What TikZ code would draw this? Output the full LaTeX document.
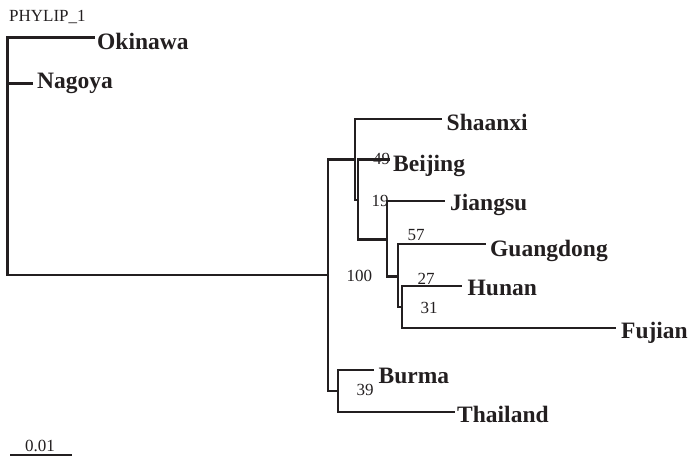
\documentclass[tikz,border=0pt]{standalone}
\usepackage{fontspec}
\setmainfont{Liberation Serif}
\definecolor{ink}{HTML}{231F20}
\begin{document}
\begin{tikzpicture}[x=1pt,y=-1pt,
  branch/.style={draw=ink,line width=2.2pt,line join=miter},
  taxon/.style={anchor=base west,inner sep=0pt,text=ink,font=\fontsize{23.5}{28}\selectfont\bfseries},
  boot/.style={anchor=base west,inner sep=0pt,text=ink,font=\fontsize{17}{20}\selectfont},
  scalebar/.style={draw=ink,line width=2.5pt}]
\useasboundingbox (0,0) rectangle (690,457);

% internal nodes
\coordinate (root) at (7.5,156);
\coordinate (n2) at (328,275);
\coordinate (nA) at (355,159.5);
\coordinate (nB) at (358,200);
\coordinate (nE) at (387,239.5);
\coordinate (nC) at (398,276.5);
\coordinate (nD) at (402,307);
\coordinate (nBT) at (338,391);

% branch tips
\coordinate (tOki) at (95,37.5);
\coordinate (tNag) at (33,83.5);
\coordinate (tSha) at (442,119);
\coordinate (tBei) at (390,159.5);
\coordinate (tJia) at (445,201);
\coordinate (tGua) at (485.5,244);
\coordinate (tHun) at (462,286);
\coordinate (tFuj) at (616,328);
\coordinate (tBur) at (373.5,370);
\coordinate (tTha) at (455,412);

% branches
\draw[branch] (root) |- (tOki);
\draw[branch] (root) |- (tNag);
\draw[branch] (root) |- (n2);
\draw[branch] (n2) |- (nA);
\draw[branch] (n2) |- (nBT);
\draw[branch] (nA) |- (tSha);
\draw[branch] (nA) |- (nB);
\draw[branch] (nB) |- (tBei);
\draw[branch] (nB) |- (nE);
\draw[branch] (nE) |- (tJia);
\draw[branch] (nE) |- (nC);
\draw[branch] (nC) |- (tGua);
\draw[branch] (nC) |- (nD);
\draw[branch] (nD) |- (tHun);
\draw[branch] (nD) |- (tFuj);
\draw[branch] (nBT) |- (tBur);
\draw[branch] (nBT) |- (tTha);

% taxon labels
\node[taxon] (lOki) at (97,50) {Okinawa};
\node[taxon] (lNag) at (37,89) {Nagoya};
\node[taxon] (lSha) at (446.5,130.5) {Shaanxi};
\node[taxon] (lBei) at (393,171.5) {Beijing};
\node[taxon] (lJia) at (450,211) {Jiangsu};
\node[taxon] (lGua) at (490,256) {Guangdong};
\node[taxon] (lHun) at (467.5,295) {Hunan};
\node[taxon] (lFuj) at (621,338) {Fujian};
\node[taxon] (lBur) at (378.5,383) {Burma};
\node[taxon] (lTha) at (457,422) {Thailand};

% bootstrap values
\node[boot] (b49) at (373,165) {49};
\node[boot] (b19) at (371.5,206) {19};
\node[boot] (b57) at (407.5,240.5) {57};
\node[boot] (b100) at (346.5,281.5) {100};
\node[boot] (b27) at (417.5,284) {27};
\node[boot] (b31) at (420.5,313) {31};
\node[boot] (b39) at (356.5,395.5) {39};

% title
\node[boot] (title) at (9,21.5) {PHYLIP\_1};

% scale bar
\coordinate (sL) at (10,455);
\coordinate (sR) at (72,455);
\draw[scalebar] (sL) -- (sR);
\node[boot] (sLab) at (25,451) {0.01};
\end{tikzpicture}
\end{document}
